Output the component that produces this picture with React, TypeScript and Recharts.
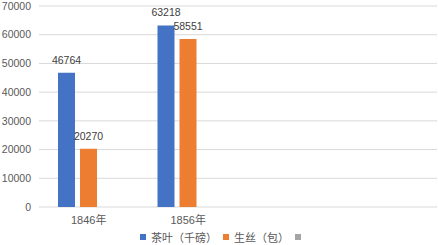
import React from 'react';
import { BarChart, Bar, XAxis, YAxis, CartesianGrid, Legend, LabelList } from 'recharts';

const categories = ['1846年', '1856年', '', ''];
const teaValues: (number | null)[] = [46764, 63218, null, null];
const silkValues: (number | null)[] = [20270, 58551, null, null];
const otherValues: (number | null)[] = [null, null, null, null];
const seriesNames = ['茶叶（千磅）', '生丝（包）', ''];
const yTicks = [0, 10000, 20000, 30000, 40000, 50000, 60000, 70000];
const boundaryTicks = [0, 1, 2, 3, 4];

const colors = ['#4472C4', '#ED7D31', '#A5A5A5'];

const data = categories.map((c, i) => ({
  cat: c,
  tea: teaValues[i],
  silk: silkValues[i],
  other: otherValues[i],
}));

const FONT = '"Liberation Sans", "Noto Sans CJK SC", sans-serif';
const CJK = '"Noto Sans CJK SC", sans-serif';

const renderLegend = (props: any) => {
  const payload = props.payload || [];
  return (
    <div style={{ display: 'flex', justifyContent: 'flex-start', alignItems: 'center', paddingLeft: 140, fontFamily: CJK, fontSize: 11, lineHeight: '16px', color: '#595959' }}>
      {payload.map((entry: any, i: number) => (
        <div key={i} style={{ display: 'flex', alignItems: 'center', marginRight: 6 }}>
          <span style={{ display: 'inline-block', width: 6, height: 6, background: colors[i], marginRight: seriesNames[i] ? 5 : 0 }} />
          {seriesNames[i] ? <span>{seriesNames[i]}</span> : null}
        </div>
      ))}
    </div>
  );
};

export default function App() {
  return (
    <div style={{ position: 'absolute', left: 0, top: 0, width: 438, height: 245, background: '#fff' }}>
      <BarChart
        width={438}
        height={245}
        data={data}
        margin={{ top: 6, right: 1, left: 0, bottom: 8 }}
        barCategoryGap={19}
        barGap={5}
      >
        <CartesianGrid vertical={false} stroke="#D9D9D9" strokeWidth={1} />
        <XAxis
          xAxisId="num"
          type="number"
          domain={[0, 4]}
          ticks={boundaryTicks}
          height={0}
          tick={false}
          tickLine={{ stroke: '#D9D9D9' }}
          tickSize={4}
          axisLine={{ stroke: '#D9D9D9' }}
          allowDataOverflow
        />
        <XAxis
          xAxisId="cat"
          dataKey="cat"
          height={30}
          axisLine={false}
          tickLine={false}
          tickSize={0}
          tickMargin={9}
          interval={0}
          tick={{ fill: '#595959', fontSize: 11, fontFamily: FONT }}
        />
        <YAxis
          width={39}
          domain={[0, 70000]}
          ticks={yTicks}
          axisLine={false}
          tickLine={false}
          tickSize={0}
          tickMargin={8}
          tick={{ fill: '#595959', fontSize: 10.5, fontFamily: FONT }}
        />
        <Legend
          verticalAlign="middle"
          align="center"
          layout="horizontal"
          content={renderLegend}
          wrapperStyle={{ position: 'absolute', top: 229, left: 0, width: 438, height: 16 }}
        />
        <Bar xAxisId="cat" dataKey="tea" name={seriesNames[0]} fill={colors[0]} isAnimationActive={false}>
          <LabelList dataKey="tea" position="top" offset={9} fill="#404040" fontSize={10.5} fontFamily={FONT} />
        </Bar>
        <Bar xAxisId="cat" dataKey="silk" name={seriesNames[1]} fill={colors[1]} isAnimationActive={false}>
          <LabelList dataKey="silk" position="top" offset={9} fill="#404040" fontSize={10.5} fontFamily={FONT} />
        </Bar>
        <Bar xAxisId="cat" dataKey="other" name="other" fill={colors[2]} isAnimationActive={false} />
      </BarChart>
    </div>
  );
}
